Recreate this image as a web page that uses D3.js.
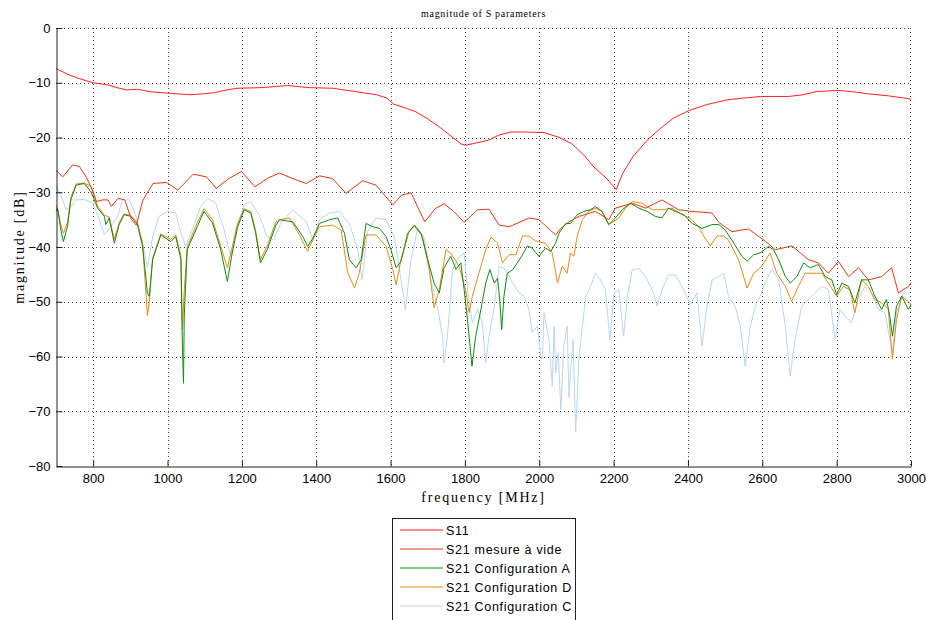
<!DOCTYPE html>
<html lang="fr">
<head>
<meta charset="UTF-8">
<title>magnitude of S parameters</title>
<script src="https://d3js.org/d3.v7.min.js"></script>
<style>
  body { margin: 0; background: #fff; }
  .line { fill: none; stroke-width: 1px; }
  .grid line { stroke: #000; stroke-dasharray: 1,3; stroke-opacity: 0.75; }
  .tick-label { font-family: "Liberation Sans", Arial, sans-serif; font-size: 13px; fill: #000; }
  .axis-label { font-family: "Liberation Serif", "Times New Roman", serif; font-size: 14px; letter-spacing: 1.8px; }
  .title { font-family: "Liberation Serif", "Times New Roman", serif; font-size: 10px; letter-spacing: 0.7px; }
  .legend text { font-family: "Liberation Sans", Arial, sans-serif; font-size: 12.5px; letter-spacing: 0.7px; }
</style>
</head>
<body>
<svg width="926" height="620"></svg>
<script>
// frequency [MHz], magnitude [dB]
const s11 = [[700,-7.4],[730,-8.4],[760,-9.2],[800,-10.0],[840,-10.4],[870,-11.0],[890,-11.3],[920,-11.2],[950,-11.6],[980,-11.8],[1020,-12.0],[1062,-12.2],[1100,-12.0],[1129,-11.8],[1160,-11.3],[1189,-11.0],[1249,-10.9],[1290,-10.7],[1324,-10.5],[1350,-10.7],[1384,-10.9],[1444,-11.0],[1504,-11.6],[1563,-12.2],[1590,-12.8],[1608,-13.9],[1640,-14.6],[1668,-15.3],[1700,-16.6],[1728,-17.9],[1760,-19.6],[1790,-21.2],[1803,-21.4],[1830,-21.0],[1863,-20.5],[1890,-19.6],[1923,-19.0],[1960,-19.0],[2013,-19.1],[2050,-19.9],[2087,-21.1],[2120,-23.2],[2147,-25.4],[2180,-27.4],[2207,-29.5],[2225,-26.5],[2252,-23.5],[2290,-20.5],[2327,-18.3],[2360,-16.5],[2402,-15.1],[2450,-14.0],[2507,-13.1],[2550,-12.8],[2596,-12.5],[2671,-12.5],[2710,-12.2],[2746,-11.6],[2806,-11.4],[2850,-11.7],[2881,-12.0],[2940,-12.4],[2993,-12.9],[3000,-13.0]];

const s21Vide = [[700,-26.0],[718,-27.2],[745,-25.0],[763,-25.3],[781,-27.2],[798,-29.6],[809,-31.7],[825,-31.4],[840,-31.4],[849,-32.6],[867,-31.1],[885,-31.4],[903,-35.0],[916,-36.0],[934,-31.4],[961,-28.4],[997,-28.2],[1028,-29.6],[1069,-26.7],[1105,-27.2],[1131,-29.3],[1165,-27.5],[1199,-26.2],[1235,-29.0],[1270,-27.4],[1301,-26.5],[1337,-27.5],[1373,-28.4],[1409,-27.0],[1444,-27.5],[1480,-30.2],[1525,-27.9],[1561,-28.7],[1606,-32.3],[1630,-30.5],[1655,-30.1],[1692,-35.4],[1720,-33.0],[1744,-32.1],[1770,-33.5],[1798,-35.5],[1834,-33.2],[1865,-33.1],[1892,-36.0],[1919,-36.3],[1973,-34.7],[1999,-35.0],[2044,-37.8],[2058,-36.6],[2080,-35.4],[2107,-34.4],[2151,-33.5],[2187,-35.0],[2205,-32.9],[2250,-32.0],[2286,-32.9],[2330,-31.4],[2375,-33.2],[2411,-33.5],[2465,-33.8],[2483,-35.5],[2518,-37.2],[2563,-36.7],[2609,-39.0],[2635,-40.5],[2680,-39.8],[2724,-42.3],[2751,-42.9],[2778,-44.8],[2805,-42.6],[2832,-45.4],[2859,-43.8],[2885,-46.0],[2921,-45.4],[2948,-43.8],[2966,-48.4],[2993,-47.2],[3000,-46.5]];

const configA = [[700,-33.5],[704,-32.9],[713,-36.9],[720,-39.0],[731,-36.2],[740,-31.4],[754,-28.7],[776,-28.4],[794,-29.9],[812,-32.9],[830,-34.4],[834,-35.9],[843,-34.7],[857,-39.3],[870,-35.9],[883,-34.1],[901,-34.4],[919,-35.9],[933,-39.9],[946,-48.4],[951,-49.0],[960,-42.3],[982,-37.8],[1009,-39.0],[1022,-38.1],[1036,-42.3],[1040,-58.1],[1043,-64.9],[1045,-52.6],[1053,-40.5],[1076,-36.9],[1098,-33.5],[1121,-35.6],[1143,-40.5],[1161,-46.3],[1174,-41.1],[1188,-36.5],[1206,-33.2],[1224,-33.8],[1237,-37.4],[1250,-42.9],[1268,-40.5],[1291,-36.1],[1301,-35.0],[1337,-35.4],[1364,-38.1],[1377,-39.9],[1391,-38.4],[1409,-35.7],[1436,-35.0],[1458,-34.7],[1476,-37.5],[1489,-42.3],[1507,-43.8],[1521,-42.3],[1534,-35.7],[1552,-36.3],[1570,-36.6],[1588,-38.1],[1601,-40.5],[1615,-43.8],[1628,-42.6],[1646,-37.5],[1664,-36.0],[1682,-37.5],[1700,-42.3],[1717,-46.6],[1731,-48.4],[1744,-43.8],[1762,-41.7],[1776,-44.1],[1789,-42.9],[1798,-47.8],[1807,-53.3],[1819,-61.8],[1829,-56.3],[1843,-51.4],[1856,-46.6],[1867,-44.1],[1879,-46.6],[1888,-45.7],[1894,-50.0],[1899,-55.1],[1905,-49.0],[1914,-44.8],[1928,-44.2],[1941,-42.9],[1955,-41.4],[1968,-39.8],[1981,-40.2],[1999,-41.7],[2017,-40.2],[2031,-40.8],[2044,-39.3],[2053,-37.5],[2071,-35.7],[2084,-35.7],[2102,-34.1],[2120,-33.5],[2138,-33.2],[2151,-32.6],[2169,-33.5],[2187,-35.9],[2205,-34.7],[2223,-33.2],[2245,-32.0],[2268,-32.9],[2290,-33.5],[2312,-34.4],[2330,-34.7],[2348,-32.9],[2366,-33.5],[2389,-34.1],[2411,-35.7],[2438,-36.6],[2465,-35.9],[2483,-35.9],[2500,-36.9],[2518,-38.7],[2545,-41.7],[2559,-42.6],[2577,-41.4],[2594,-41.1],[2617,-39.9],[2630,-40.5],[2644,-42.3],[2662,-45.4],[2675,-46.6],[2693,-45.4],[2711,-42.9],[2729,-43.8],[2751,-43.2],[2769,-45.4],[2787,-46.0],[2800,-48.7],[2814,-46.6],[2832,-47.2],[2849,-50.2],[2867,-46.0],[2885,-46.0],[2903,-49.0],[2921,-51.4],[2934,-49.6],[2943,-52.6],[2950,-56.3],[2961,-50.8],[2975,-49.0],[2993,-51.4],[3000,-50.5]];

const configD = [[700,-32.3],[706,-33.5],[713,-36.0],[720,-37.5],[731,-35.5],[740,-31.0],[754,-28.5],[776,-28.3],[794,-29.0],[812,-32.5],[830,-34.2],[843,-34.5],[857,-38.6],[870,-35.5],[883,-34.0],[901,-34.2],[919,-35.5],[933,-39.5],[946,-52.6],[951,-50.0],[960,-42.0],[982,-37.6],[1009,-38.6],[1022,-37.8],[1036,-41.5],[1040,-55.0],[1045,-48.0],[1053,-40.0],[1076,-36.2],[1098,-33.0],[1121,-35.0],[1143,-39.8],[1161,-43.8],[1174,-40.0],[1188,-35.8],[1206,-33.0],[1224,-33.5],[1237,-37.0],[1250,-42.3],[1268,-39.8],[1291,-35.5],[1301,-35.0],[1328,-34.7],[1355,-37.8],[1377,-40.8],[1391,-38.7],[1409,-36.3],[1444,-36.0],[1467,-36.9],[1485,-44.7],[1503,-47.5],[1516,-44.7],[1534,-37.8],[1561,-37.8],[1588,-39.9],[1606,-44.1],[1615,-46.9],[1628,-42.3],[1650,-37.2],[1664,-36.2],[1686,-38.1],[1704,-44.1],[1717,-51.1],[1731,-47.8],[1749,-40.5],[1762,-41.1],[1784,-43.5],[1802,-47.8],[1811,-52.0],[1820,-49.0],[1838,-44.7],[1856,-40.5],[1870,-38.2],[1888,-39.3],[1901,-42.9],[1919,-41.4],[1937,-41.4],[1955,-38.0],[1972,-38.0],[1990,-38.9],[2017,-39.3],[2035,-41.1],[2049,-46.6],[2062,-43.5],[2075,-44.8],[2084,-41.1],[2093,-41.7],[2102,-38.0],[2116,-35.0],[2133,-33.5],[2151,-32.9],[2169,-33.5],[2187,-35.9],[2214,-34.7],[2232,-32.9],[2250,-31.7],[2277,-32.0],[2304,-33.2],[2330,-33.2],[2357,-32.9],[2384,-34.1],[2406,-34.7],[2429,-36.3],[2442,-38.0],[2460,-39.8],[2478,-38.0],[2496,-38.0],[2509,-38.7],[2536,-42.3],[2559,-47.5],[2577,-44.8],[2599,-43.5],[2621,-41.1],[2639,-44.8],[2662,-47.2],[2679,-49.9],[2697,-47.2],[2715,-44.8],[2742,-44.8],[2760,-44.8],[2778,-46.6],[2800,-49.0],[2818,-47.2],[2836,-47.8],[2849,-52.0],[2867,-46.0],[2885,-47.2],[2903,-49.6],[2921,-50.2],[2939,-51.4],[2950,-60.5],[2961,-53.3],[2975,-49.0],[2997,-50.2],[3000,-51.0]];

const configC = [[700,-28.7],[718,-31.4],[727,-33.2],[740,-32.6],[754,-31.4],[776,-31.3],[798,-32.0],[812,-34.1],[830,-37.7],[848,-36.2],[866,-34.4],[879,-31.4],[897,-31.4],[915,-34.4],[933,-39.3],[946,-43.8],[960,-38.1],[977,-34.4],[1000,-33.5],[1022,-33.8],[1036,-37.4],[1049,-39.8],[1067,-36.8],[1089,-32.6],[1107,-31.1],[1130,-32.0],[1152,-36.8],[1170,-41.7],[1188,-36.2],[1206,-32.3],[1224,-31.7],[1246,-34.1],[1268,-38.1],[1286,-38.7],[1304,-35.7],[1337,-33.2],[1373,-35.4],[1391,-38.7],[1409,-35.0],[1436,-33.8],[1462,-33.5],[1489,-35.7],[1512,-40.5],[1523,-46.0],[1538,-37.2],[1561,-34.7],[1588,-35.0],[1610,-38.1],[1628,-46.0],[1640,-51.4],[1655,-42.3],[1673,-36.6],[1691,-38.4],[1708,-46.0],[1726,-50.9],[1740,-56.3],[1744,-61.2],[1753,-56.3],[1767,-44.1],[1785,-41.7],[1798,-41.1],[1807,-47.8],[1820,-53.9],[1834,-51.4],[1847,-53.9],[1856,-61.2],[1865,-56.3],[1879,-50.9],[1892,-43.5],[1910,-44.1],[1928,-46.6],[1946,-48.4],[1959,-49.0],[1972,-51.4],[1981,-55.6],[1995,-54.5],[2004,-59.9],[2008,-60.5],[2013,-52.0],[2026,-56.9],[2035,-65.4],[2040,-54.5],[2044,-63.0],[2051,-59.3],[2058,-69.7],[2066,-58.1],[2075,-54.5],[2080,-67.5],[2084,-63.0],[2091,-56.9],[2098,-73.8],[2107,-59.9],[2116,-54.5],[2125,-49.0],[2138,-47.2],[2151,-44.8],[2165,-46.0],[2178,-47.8],[2190,-56.9],[2201,-48.4],[2214,-47.8],[2227,-56.3],[2236,-49.6],[2250,-44.2],[2268,-43.9],[2286,-45.4],[2304,-47.8],[2317,-50.8],[2330,-47.8],[2348,-45.1],[2366,-45.1],[2384,-47.2],[2406,-50.5],[2424,-48.4],[2438,-58.1],[2451,-50.8],[2465,-46.0],[2483,-45.4],[2496,-44.8],[2509,-49.0],[2527,-50.8],[2541,-54.5],[2554,-61.8],[2568,-54.5],[2581,-50.8],[2594,-49.0],[2612,-45.9],[2626,-44.1],[2644,-45.9],[2662,-54.5],[2675,-63.6],[2688,-56.9],[2706,-50.8],[2724,-49.6],[2742,-48.4],[2760,-47.2],[2778,-47.8],[2796,-56.9],[2809,-51.4],[2823,-52.6],[2840,-53.9],[2858,-49.6],[2876,-47.2],[2894,-48.4],[2912,-51.4],[2930,-52.0],[2943,-56.9],[2950,-59.3],[2961,-52.0],[2979,-48.4],[2997,-47.2],[3000,-47.5]];

const xTicks = [800, 1000, 1200, 1400, 1600, 1800, 2000, 2200, 2400, 2600, 2800, 3000];
const yTicks = [0, -10, -20, -30, -40, -50, -60, -70, -80];

const seriesNames = ["S11", "S21 mesure à vide", "S21 Configuration A", "S21 Configuration D", "S21 Configuration C"];
const seriesData = [s11, s21Vide, configA, configD, configC];
const seriesColors = ["#ff2020", "#e2380e", "#118a11", "#e88a12", "#b9d5f5"];

// plot box
const plotLeft = 56, plotRight = 911, plotTop = 28, plotBottom = 466;

const svg = d3.select("svg");

const x = d3.scaleLinear().domain([700, 3000]).range([plotLeft, plotRight]);
const y = d3.scaleLinear().domain([-80, 0]).range([plotBottom, plotTop]);

// dotted grid
const grid = svg.append("g").attr("class", "grid");
grid.selectAll(".gx").data(xTicks.filter(d => d < 3000)).enter().append("line")
    .attr("x1", d => Math.round(x(d)) + 0.5).attr("x2", d => Math.round(x(d)) + 0.5)
    .attr("y1", plotTop).attr("y2", plotBottom);
grid.selectAll(".gy").data(yTicks.filter(d => d > -80 && d < 0)).enter().append("line")
    .attr("x1", plotLeft).attr("x2", plotRight)
    .attr("y1", d => Math.round(y(d)) + 0.5).attr("y2", d => Math.round(y(d)) + 0.5);
grid.append("line").attr("x1", plotLeft).attr("x2", plotRight).attr("y1", plotTop + 0.5).attr("y2", plotTop + 0.5);
grid.append("line").attr("x1", plotRight - 0.5).attr("x2", plotRight - 0.5).attr("y1", plotTop).attr("y2", plotBottom);

// curves, light blue at the back
const line = d3.line().x(d => x(d[0])).y(d => y(d[1]));
[4, 3, 2, 1, 0].forEach(i => {
    svg.append("path")
        .attr("class", "line")
        .attr("d", line(seriesData[i]))
        .attr("stroke", seriesColors[i]);
});

// axes with inward ticks
svg.append("g")
    .attr("transform", "translate(0," + (plotBottom + 0.5) + ")")
    .call(d3.axisBottom(x).tickValues(xTicks).tickFormat(d3.format("d")).tickSizeInner(-6).tickSizeOuter(0).tickPadding(7))
    .call(g => g.select(".domain").attr("stroke", "#222"))
    .call(g => g.selectAll(".tick line").attr("stroke", "#222"))
    .call(g => g.selectAll("text").attr("class", "tick-label").attr("font-family", null).attr("font-size", null));

svg.append("g")
    .attr("transform", "translate(" + (plotLeft + 0.5) + ",0)")
    .call(d3.axisLeft(y).tickValues(yTicks).tickFormat(d3.format("d")).tickSizeInner(-6).tickSizeOuter(0).tickPadding(6))
    .call(g => g.select(".domain").attr("stroke", "#222"))
    .call(g => g.selectAll(".tick line").attr("stroke", "#222"))
    .call(g => g.selectAll("text").attr("class", "tick-label").attr("font-family", null).attr("font-size", null));

// title and labels
svg.append("text").attr("class", "title")
    .attr("x", (plotLeft + plotRight) / 2).attr("y", 17)
    .attr("text-anchor", "middle")
    .text("magnitude of S parameters");

svg.append("text").attr("class", "axis-label")
    .attr("x", (plotLeft + plotRight) / 2).attr("y", 502)
    .attr("text-anchor", "middle")
    .text("frequency [MHz]");

svg.append("text").attr("class", "axis-label")
    .attr("transform", "translate(24," + (plotTop + plotBottom) / 2 + ") rotate(-90)")
    .attr("text-anchor", "middle")
    .text("magnitude [dB]");

// legend
const legend = svg.append("g").attr("class", "legend");
legend.append("rect")
    .attr("x", 392.5).attr("y", 518.5).attr("width", 183).attr("height", 110)
    .attr("fill", "#fff").attr("stroke", "#222");
seriesNames.forEach((name, i) => {
    const ly = 530 + i * 19;
    legend.append("line")
        .attr("x1", 400).attr("x2", 443).attr("y1", ly).attr("y2", ly)
        .attr("stroke", seriesColors[i]).attr("stroke-width", 1.2);
    legend.append("text")
        .attr("x", 446).attr("y", ly + 4.5)
        .text(name);
});
</script>
</body>
</html>
